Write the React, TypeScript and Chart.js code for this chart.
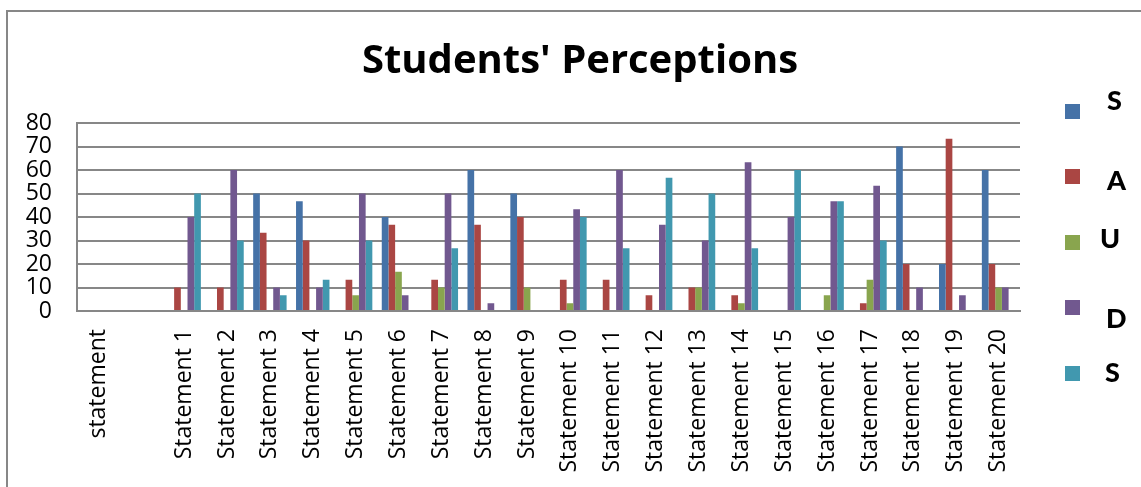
import React, { useEffect, useRef } from "react";
import { Chart, registerables } from "chart.js";

Chart.register(...registerables);

const categories: string[] = [
  "statement", "",
  "Statement 1", "Statement 2", "Statement 3", "Statement 4", "Statement 5",
  "Statement 6", "Statement 7", "Statement 8", "Statement 9", "Statement 10",
  "Statement 11", "Statement 12", "Statement 13", "Statement 14", "Statement 15",
  "Statement 16", "Statement 17", "Statement 18", "Statement 19", "Statement 20",
];

const seriesLabels: string[] = ["S", "A", "U", "D", "S"];
const seriesColors: string[] = ["#4572A7", "#AA4643", "#89A54E", "#71588F", "#4198AF"];

const sValues: (number | null)[] = [0, null, 0, 0, 50, 46.7, 0, 40, 0, 60, 50, 0, 0, 0, 0, 0, 0, 0, 0, 70, 20, 60];
const aValues: (number | null)[] = [0, null, 10, 10, 33.3, 30, 13.3, 36.7, 13.3, 36.7, 40, 13.3, 13.3, 6.7, 10, 6.7, 0, 0, 3.3, 20, 73.3, 20];
const uValues: (number | null)[] = [0, null, 0, 0, 0, 0, 6.7, 16.7, 10, 0, 10, 3.3, 0, 0, 10, 3.3, 0, 6.7, 13.3, 0, 0, 10];
const dValues: (number | null)[] = [0, null, 40, 60, 10, 10, 50, 6.7, 50, 3.3, 0, 43.3, 60, 36.7, 30, 63.3, 40, 46.7, 53.3, 10, 6.7, 10];
const s2Values: (number | null)[] = [0, null, 50, 30, 6.7, 13.3, 30, 0, 26.7, 0, 0, 40, 26.7, 56.7, 50, 26.7, 60, 46.7, 30, 0, 0, 0];

const yTicks = { min: 0, max: 80, step: 10 };

const GRID = "#878787";

const sideLegend = {
  id: "sideLegend",
  afterDraw(chart: any, _args: any, opts: any) {
    const ctx = chart.ctx;
    ctx.save();
    chart.data.datasets.forEach((ds: any, i: number) => {
      const it = opts.items[i];
      ctx.fillStyle = ds.backgroundColor;
      ctx.fillRect(opts.boxX, it.boxY, opts.box, opts.box);
      ctx.fillStyle = "#000";
      ctx.font = opts.font;
      ctx.textBaseline = "alphabetic";
      ctx.textAlign = "left";
      ctx.fillText(ds.label, it.textX, it.baseY);
    });
    ctx.restore();
  },
};

export default function App() {
  const ref = useRef<HTMLCanvasElement | null>(null);

  useEffect(() => {
    if (!ref.current) return;
    const valueSets = [sValues, aValues, uValues, dValues, s2Values];
    const chart = new Chart(ref.current, {
      type: "bar",
      data: {
        labels: categories,
        datasets: valueSets.map((vals, i) => ({
          label: seriesLabels[i],
          data: vals,
          backgroundColor: seriesColors[i],
          borderWidth: 0,
          barPercentage: 1,
          categoryPercentage: 0.78,
        })),
      },
      plugins: [sideLegend],
      options: {
        responsive: false,
        animation: false,
        layout: { padding: { left: 19, right: 0, top: 0, bottom: 0 } },
        plugins: {
          legend: { display: false },
          tooltip: { enabled: false },
          title: {
            display: true,
            text: "Students' Perceptions",
            color: "#000",
            font: { family: "'Open Sans', sans-serif", size: 40, weight: "bold", lineHeight: 1.2 },
            padding: { top: 38, bottom: 37 },
          },
          sideLegend: {
            boxX: 1065,
            box: 15,
            font: "900 27px Lato, 'DejaVu Sans', sans-serif",
            items: [
              { boxY: 104, textX: 1107, baseY: 110 },
              { boxY: 169, textX: 1107, baseY: 190 },
              { boxY: 235, textX: 1100, baseY: 248 },
              { boxY: 300, textX: 1106, baseY: 328 },
              { boxY: 366, textX: 1105, baseY: 382 },
            ],
          },
        } as any,
        scales: {
          x: {
            grid: { display: false, drawTicks: false },
            border: { display: true, color: GRID, width: 2 },
            ticks: {
              autoSkip: false,
              minRotation: 90,
              maxRotation: 90,
              padding: 18,
              color: "#000",
              font: { family: "'Open Sans', sans-serif", size: 23 },
            },
            afterFit: (scale: any) => {
              scale.height = 176;
            },
          },
          y: {
            min: yTicks.min,
            max: yTicks.max,
            grid: { color: GRID, lineWidth: 2, drawTicks: false },
            border: { display: true, color: GRID, width: 2 },
            ticks: {
              stepSize: yTicks.step,
              autoSkip: false,
              padding: 25,
              color: "#000",
              font: { family: "'Open Sans', sans-serif", size: 23, lineHeight: 1 },
            },
            afterFit: (scale: any) => {
              scale.width = 58;
            },
          },
          legendSpace: {
            type: "linear",
            position: "right",
            display: true,
            grid: { display: false, drawTicks: false },
            border: { display: false },
            ticks: { display: false },
            afterFit: (scale: any) => {
              scale.width = 121;
            },
          },
        } as any,
      },
    });
    return () => chart.destroy();
  }, []);

  return (
    <div style={{ position: "fixed", left: 0, top: 0, width: 1141, height: 487, background: "#fff", overflow: "hidden" }}>
      <div
        style={{
          position: "absolute",
          left: 6,
          top: 10,
          width: 1300,
          height: 700,
          border: `2px solid ${GRID}`,
          boxSizing: "border-box",
        }}
      />
      <canvas ref={ref} width={1141} height={487} style={{ position: "absolute", left: 0, top: 0 }} />
    </div>
  );
}
